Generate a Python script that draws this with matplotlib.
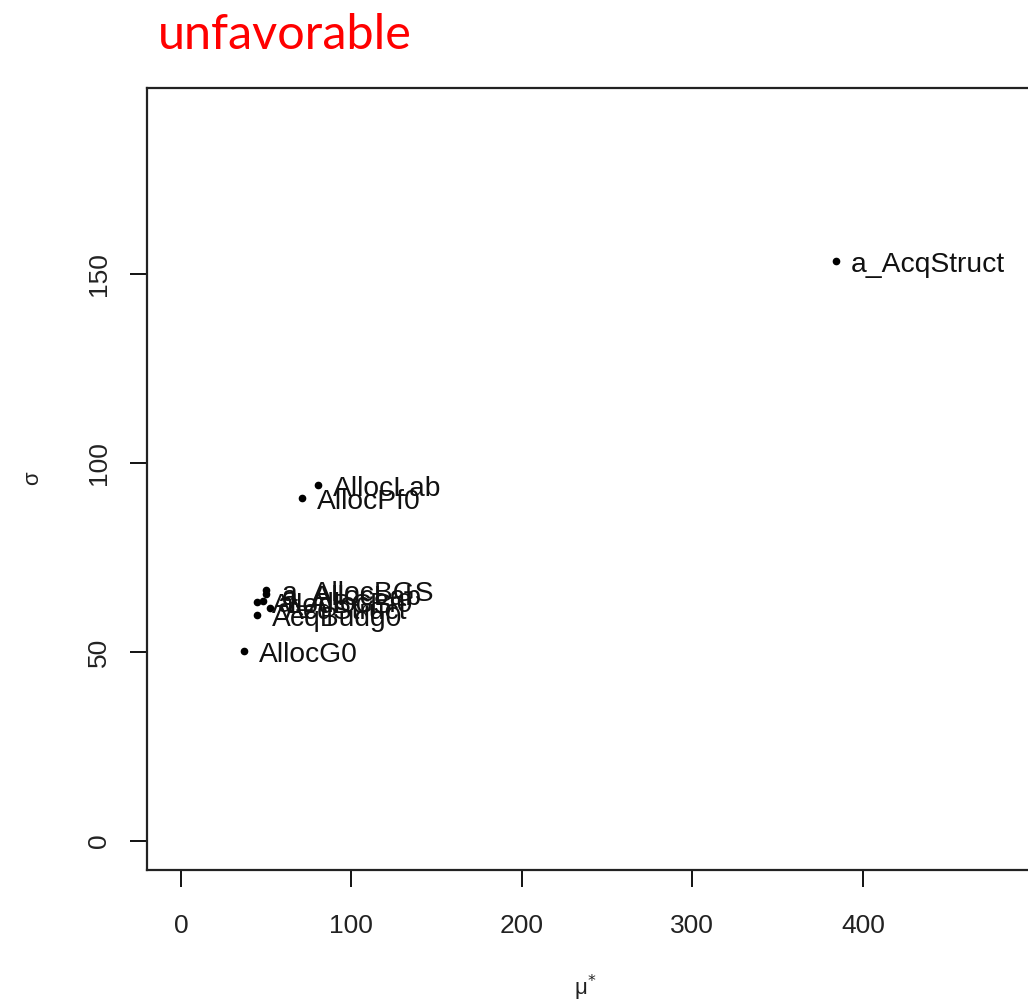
import matplotlib
matplotlib.use("Agg")
import matplotlib.pyplot as plt

labels = ["a_AcqStruct", "AllocLab", "AllocPf0", "AllocG0",
          "a_AllocBGS", "a_AllocLab", "AllocBGS", "a_AllocPf0", "AcqStruct", "AcqBudg0"]
mu_star = [384.2, 80.4, 71.0, 37.0, 49.9, 49.9, 44.6, 48.1, 52.2, 44.6]
sigma = [153.4, 94.2, 90.7, 50.3, 66.4, 65.3, 63.2, 63.5, 61.7, 59.8]
xticks = [0, 100, 200, 300, 400]
yticks = [0, 50, 100, 150]

W, H = 1028, 1005
fig = plt.figure(figsize=(W/100, H/100), dpi=100)
ax = fig.add_axes([147/W, 1-870/H, (1064-147)/W, (870-88)/H])
ax.plot(mu_star, sigma, 'o', color='black', markersize=4.5, linestyle='none')
for x, y, s in zip(mu_star, sigma, labels):
    ax.annotate(s, (x, y), xytext=(11, -3), textcoords='offset points',
                ha='left', va='center', fontsize=20.3, family='Liberation Sans',
                color='#111111', clip_on=True)
ax.set_xlim(-19.9, 518)
ax.set_ylim(-7.7, 199.2)
ax.set_xticks(xticks)
ax.set_yticks(yticks)
ax.tick_params(direction='out', length=12, width=1.3, labelsize=19, pad=14)
ax.tick_params(axis='x', pad=20)
for lab in ax.get_xticklabels() + ax.get_yticklabels():
    lab.set_family('Liberation Sans')
    lab.set_color('#222222')
for lab in ax.get_yticklabels():
    lab.set_rotation(90)
    lab.set_va('center')
for sp in ax.spines.values():
    sp.set_linewidth(1.6)
    sp.set_color('#222222')

fig.text(33/W, 1-478/H, "σ", rotation=90, ha='center', va='center',
         fontsize=16, family='Liberation Sans', color='#222222')
fig.text(585/W, 1-988/H, r"μ$^{*}$", ha='center', va='center',
         fontsize=16, family='Liberation Sans', color='#222222')
fig.text(158/W, 1-35/H, "unfavorable", ha='left', va='center',
         fontsize=35, family='Lato', color='#ff0000')

fig.savefig("out.png", dpi=100)
